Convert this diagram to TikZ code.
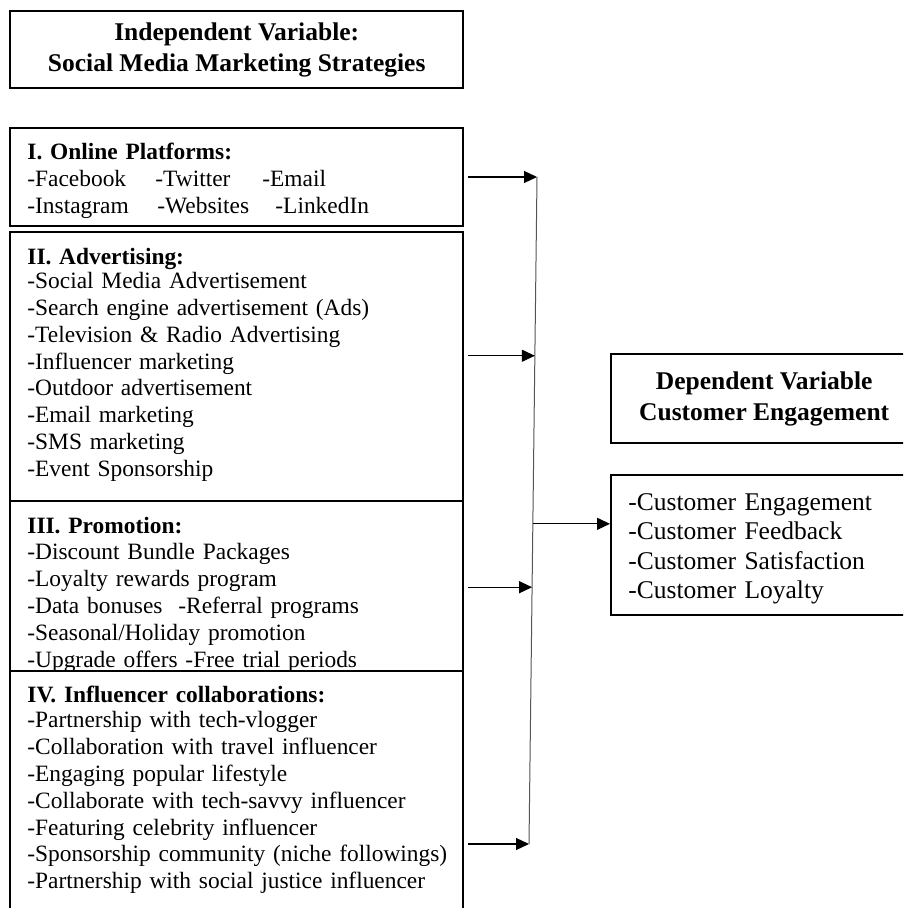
\documentclass[tikz,border=0pt]{standalone}
\usepackage{fontspec}
\setmainfont{Liberation Serif}
\usetikzlibrary{positioning,arrows.meta,calc}
\definecolor{ink}{HTML}{000000}
\definecolor{rail}{HTML}{555555}

\begin{document}
\begin{tikzpicture}[x=0.5pt, y=-0.5pt,
    boxline/.style={draw=ink, line width=1.2pt, fill=white, inner sep=0pt, anchor=north west},
    headtext/.style={align=center, font=\fontsize{12.75}{15.5}\selectfont\bfseries},
    listtext/.style={anchor=base west, inner sep=0pt, align=left, text width=210pt,
      font=\fontsize{11.7}{13.4}\selectfont},
    flow/.style={ink, line width=0.6pt, -{Triangle[length=6.5pt,width=6pt]}}]
  \useasboundingbox (0,0) rectangle (903,908);
  \clip (0,0) rectangle (903,908);

  % independent variable
  \node[boxline, headtext, minimum width=226.5pt, minimum height=38.5pt] (indep) at (9,10)
    {Independent Variable:\\Social Media Marketing Strategies};

  \node[boxline, minimum width=226.5pt, minimum height=49pt] (online) at (9,127) {};
  \node[listtext] (onlinelist) at ($(online.north west)+(18,33)$)
    {\textbf{I. Online Platforms:}\\
     \makebox[64pt][l]{-Facebook}\makebox[53.5pt][l]{-Twitter}-Email\\
     \makebox[65pt][l]{-Instagram}\makebox[59pt][l]{-Websites}-LinkedIn};

  \node[boxline, minimum width=226.5pt, minimum height=134.5pt] (advert) at (9,231) {};
  \node[listtext] (advertlist) at ($(advert.north west)+(18,34)$)
    {\textbf{II. Advertising:}\\[-1.5pt]
     -Social Media Advertisement\\
     -Search engine advertisement (Ads)\\
     -Television \& Radio Advertising\\
     -Influencer marketing\\
     -Outdoor advertisement\\
     -Email marketing\\
     -SMS marketing\\
     -Event Sponsorship};

  \node[boxline, minimum width=226.5pt, minimum height=85pt] (promo) at (9,500) {};
  \node[listtext] (promolist) at ($(promo.north west)+(18,33)$)
    {\textbf{III. Promotion:}\\
     -Discount Bundle Packages\\
     -Loyalty rewards program\\
     \makebox[75.5pt][l]{-Data bonuses}-Referral programs\\
     -Seasonal/Holiday promotion\\
     -Upgrade offers -Free trial periods};

  % drawn over the last line of III
  \node[boxline, minimum width=226.5pt, minimum height=135pt] (collab) at (9,670) {};
  \node[listtext] (collablist) at ($(collab.north west)+(18,32)$)
    {\textbf{IV. Influencer collaborations:}\\[-0.5pt]
     -Partnership with tech-vlogger\\
     -Collaboration with travel influencer\\
     -Engaging popular lifestyle\\
     -Collaborate with tech-savvy influencer\\
     -Featuring celebrity influencer\\
     -Sponsorship community (niche followings)\\
     -Partnership with social justice influencer};

  % dependent variable
  \node[boxline, headtext, minimum width=153pt, minimum height=44.5pt] (dep) at (610,353)
    {Dependent Variable\\Customer Engagement};
  \node[boxline, minimum width=153pt, minimum height=70pt] (outcome) at (610,474) {};
  \node[listtext, text width=140pt, font=\fontsize{12.75}{14.75}\selectfont] (outcomelist)
    at ($(outcome.north west)+(18,36)$)
    {-Customer Engagement\\
     -Customer Feedback\\
     -Customer Satisfaction\\
     -Customer Loyalty};

  % collecting line
  \coordinate (spinetop) at (537,177);
  \coordinate (spinebot) at (529,844);
  \coordinate (j2) at ($(spinetop)!0.268!(spinebot)$);
  \coordinate (j3) at ($(spinetop)!0.615!(spinebot)$);
  \coordinate (out) at ($(spinetop)!0.520!(spinebot)$);
  \draw[rail, line width=0.5pt] (spinetop) -- (spinebot);

  \draw[flow, shorten <=2pt] (online.east |- spinetop) -- (spinetop);
  \draw[flow, shorten <=2pt] (advert.east |- j2) -- (j2);
  \draw[flow, shorten <=2pt] (promo.east |- j3) -- (j3);
  \draw[flow, shorten <=2pt] (collab.east |- spinebot) -- (spinebot);
  \draw[flow] (out) -- (outcome.west |- out);
\end{tikzpicture}
\end{document}
